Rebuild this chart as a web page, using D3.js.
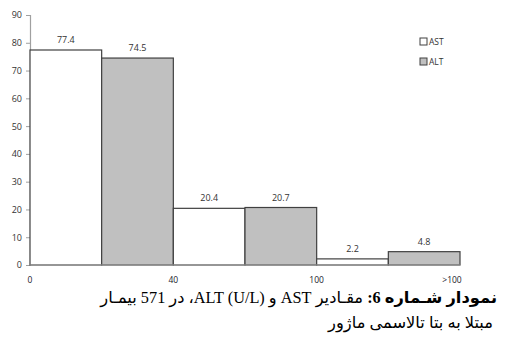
<!DOCTYPE html>
<html><head><meta charset="utf-8">
<script src="https://cdn.jsdelivr.net/npm/d3@7"></script>
<style>body{margin:0;background:#fff}svg{display:block}</style>
</head><body>
<svg id="c" width="508" height="348"></svg>
<script>
const groups = ["0-40", "40-100", ">100"];
const series = ["AST", "ALT"];
const astValues = [77.4, 20.4, 2.2];
const altValues = [74.5, 20.7, 4.8];
const xTickLabels = ["0", "40", "100", ">100"];
const yTicks = [0, 10, 20, 30, 40, 50, 60, 70, 80, 90];
const fills = {AST: "#ffffff", ALT: "#c0c0c0"};
const captionBold = "نمودار شـماره 6:";
const captionRest = " مقـادیر AST و ALT (U/L)، در 571 بیمـار";
const captionLine2 = "مبتلا به بتا تالاسمی ماژور";

(function () {
const svg = d3.select("#c");
const mLeft = 30, mRight = 460, mTop = 15, mBottom = 265;
const font = "'Open Sans', 'DejaVu Sans', sans-serif";
const y = d3.scaleLinear().domain([0, 90]).range([mBottom, mTop]);
const x0 = d3.scaleBand().domain(groups).range([mLeft, mRight]).padding(0);
const x1 = d3.scaleBand().domain(series).range([0, x0.bandwidth()]).padding(0);

const data = groups.map((g, i) => ({g, vals: [{s: "AST", v: astValues[i]}, {s: "ALT", v: altValues[i]}]}));

const yAxis = svg.append("g").attr("transform", `translate(${mLeft},0)`)
  .call(d3.axisLeft(y).tickValues(yTicks).tickSize(4).tickPadding(4));
yAxis.select(".domain").attr("stroke", "#a0a0a0").attr("stroke-width", 1.2);
yAxis.selectAll(".tick line").attr("stroke", "#a0a0a0");
yAxis.selectAll("text").attr("font-family", font).attr("font-size", 9).attr("fill", "#333");

const gG = svg.append("g").selectAll("g").data(data).join("g")
  .attr("transform", d => `translate(${x0(d.g)},0)`);
gG.selectAll("rect").data(d => d.vals).join("rect")
  .attr("x", d => x1(d.s)).attr("width", x1.bandwidth())
  .attr("y", d => y(d.v)).attr("height", d => y(0) - y(d.v))
  .attr("fill", d => fills[d.s]).attr("stroke", "#404040").attr("stroke-width", 1.2);
gG.selectAll("text").data(d => d.vals).join("text")
  .attr("x", d => x1(d.s) + x1.bandwidth() / 2).attr("y", d => y(d.v) - 7)
  .attr("text-anchor", "middle")
  .attr("font-family", font).attr("font-size", 9).attr("fill", "#333")
  .text(d => d.v.toFixed(1));

svg.append("line").attr("x1", mLeft).attr("x2", mRight).attr("y1", y(0)).attr("y2", y(0))
  .attr("stroke", "#a0a0a0").attr("stroke-width", 1.2);

const boundaries = groups.map(g => x0(g)).concat([mRight]);
svg.append("g").selectAll("text").data(xTickLabels).join("text")
  .attr("x", (d, i) => i === xTickLabels.length - 1 ? boundaries[i] - 8 : boundaries[i])
  .attr("y", 283)
  .attr("text-anchor", "middle")
  .attr("font-family", font).attr("font-size", 8.5).attr("fill", "#1a1a2a")
  .text(d => d);

const lg = svg.append("g").selectAll("g").data(series).join("g")
  .attr("transform", (d, i) => `translate(420,${38 + i * 20})`);
lg.append("rect").attr("width", 7).attr("height", 7)
  .attr("fill", d => fills[d]).attr("stroke", "#404040").attr("stroke-width", 1);
lg.append("text").attr("x", 9).attr("y", 7)
  .attr("font-family", font).attr("font-size", 8.5).attr("fill", "#333")
  .text(d => d);

const cap = svg.append("text").attr("x", 497).attr("y", 303)
  .attr("direction", "rtl").attr("text-anchor", "start")
  .attr("font-family", "'Liberation Serif', 'DejaVu Sans', serif").attr("font-size", 16.3).attr("fill", "#000");
cap.append("tspan").attr("font-weight", "bold").text(captionBold);
cap.append("tspan").text(captionRest);
svg.append("text").attr("x", 493).attr("y", 328)
  .attr("direction", "rtl").attr("text-anchor", "start")
  .attr("font-family", "'Liberation Serif', 'DejaVu Sans', serif").attr("font-size", 16.3).attr("fill", "#000")
  .text(captionLine2);
})();
</script>
</body></html>
